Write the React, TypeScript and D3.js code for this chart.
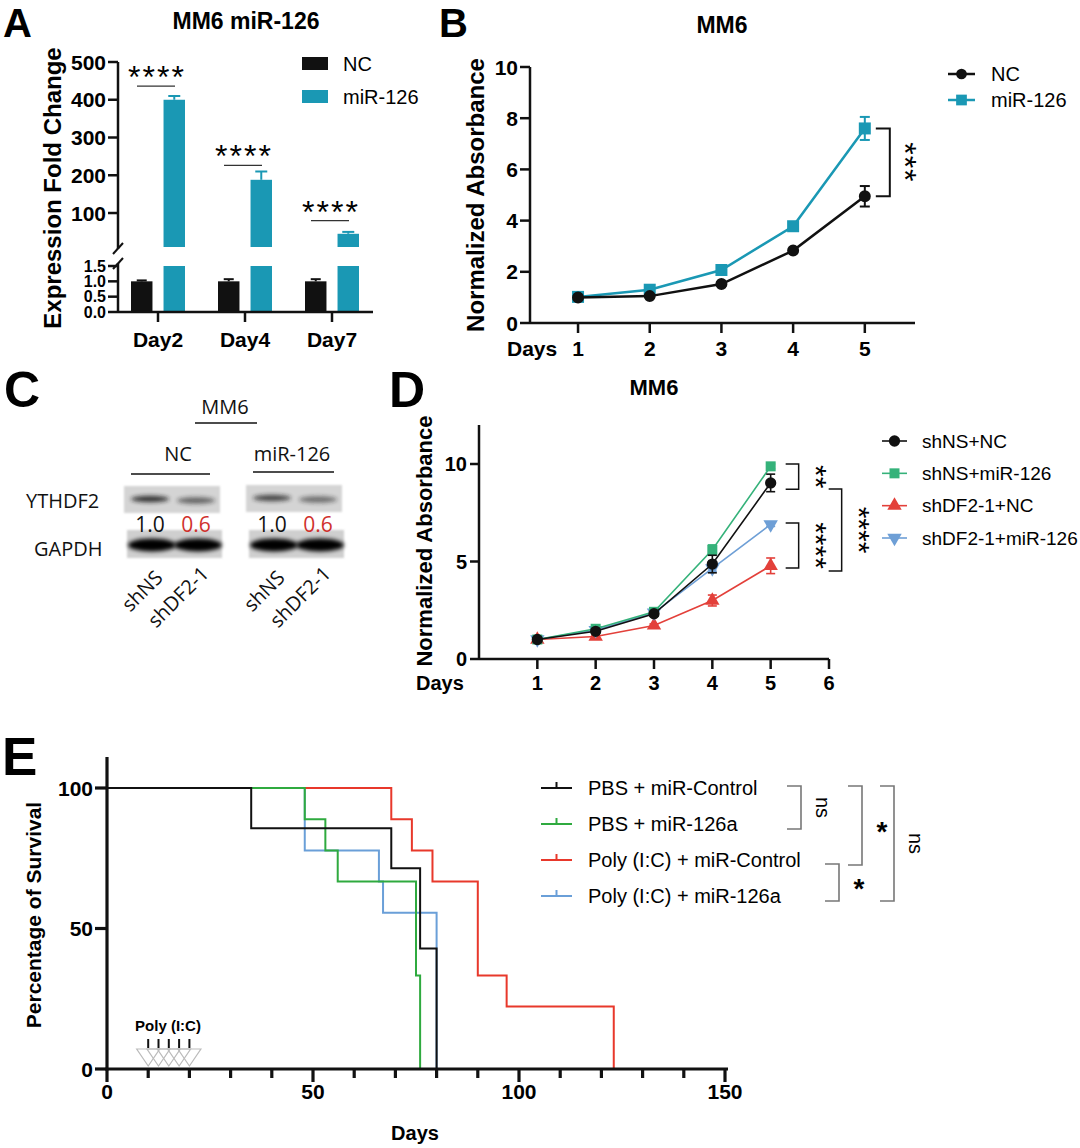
import React from 'react';
import * as d3 from 'd3';

const FONT = "'Liberation Sans', Arial, Helvetica, sans-serif";
const BLOT_FONT = "'Open Sans', 'Noto Sans', 'DejaVu Sans', sans-serif";
const TEAL = '#1a98b4';

// ---------- Panel A ----------
const aDays = ['Day2', 'Day4', 'Day7'];
const aSeries = ['NC', 'miR-126'];
const aNC = [1.0, 1.0, 1.0];
const aNCErr = [0.03, 0.07, 0.07];
const aMiR = [400, 188, 45];
const aMiRErr = [10, 22, 5];
const aUpperTicks = [100, 200, 300, 400, 500];
const aLowerTicks = [0, 0.5, 1.0, 1.5];
const aSigLabels = ['****', '****', '****'];
const aSigY = [436, 226, 80];

// ---------- Panel B ----------
const bDays = [1, 2, 3, 4, 5];
const bNC = [1.0, 1.05, 1.52, 2.83, 4.95];
const bNCErr = [0.05, 0.05, 0.06, 0.07, 0.4];
const bMiR = [1.02, 1.3, 2.07, 3.78, 7.6];
const bMiRErr = [0.05, 0.06, 0.08, 0.15, 0.45];
const bYTicks = [0, 2, 4, 6, 8, 10];
const bSeries = ['NC', 'miR-126'];

// ---------- Panel C ----------
const cGroups = ['NC', 'miR-126'];
const cLanes = ['shNS', 'shDF2-1'];
const cQuant = [[1.0, 0.6], [1.0, 0.6]];
const cYTHDF2Intensity = [[0.85, 0.6], [0.75, 0.55]];

// ---------- Panel D ----------
const dDays = [1, 2, 3, 4, 5];
const dNames = ['shNS+NC', 'shNS+miR-126', 'shDF2-1+NC', 'shDF2-1+miR-126'];
const dShNSNC = [1.0, 1.42, 2.32, 4.87, 9.03];
const dShNSNCErr = [0.05, 0.08, 0.1, 0.45, 0.45];
const dShNSMiR = [1.0, 1.55, 2.42, 5.6, 9.88];
const dShNSMiRErr = [0.05, 0.08, 0.1, 0.25, 0.12];
const dShDFNC = [1.0, 1.15, 1.72, 3.0, 4.78];
const dShDFNCErr = [0.05, 0.08, 0.08, 0.28, 0.4];
const dShDFMiR = [1.0, 1.48, 2.37, 4.65, 6.9];
const dShDFMiRErr = [0.04, 0.06, 0.08, 0.15, 0.1];
const dYTicks = [0, 5, 10];
const dXTicks = [1, 2, 3, 4, 5, 6];
const dBrFrom = [10.0, 6.97, 8.72];
const dBrTo = [8.7, 4.67, 4.51];
const dBrLabel = ['**', '****', '****'];
const dBrLevel = [0, 0, 1];

// ---------- Panel E ----------
const eGroups = ['PBS + miR-Control', 'PBS + miR-126a', 'Poly (I:C) + miR-Control', 'Poly (I:C) + miR-126a'];
const ePBSCtrlDays = [0, 35, 69, 76, 80];
const ePBSCtrlSurv = [100, 85.7, 71.4, 42.9, 0];
const ePBS126Days = [0, 48, 53, 56, 75, 76];
const ePBS126Surv = [100, 88.9, 77.8, 66.7, 33.3, 0];
const ePolyCtrlDays = [0, 69, 74, 79, 90, 97, 123];
const ePolyCtrlSurv = [100, 88.9, 77.8, 66.7, 33.3, 22.2, 0];
const ePoly126Days = [0, 48, 66, 67, 80];
const ePoly126Surv = [100, 77.8, 66.7, 55.6, 0];
const eMajorTicks = [0, 50, 100, 150];
const eMinorTicks = [10, 20, 30, 40, 60, 70, 80, 90, 110, 120, 130, 140];
const eYTicks = [0, 50, 100];
const polyICDays = [10, 12.5, 15, 17.5, 20];
const eBrTop = [0, 0, 2, 0];
const eBrBottom = [1, 2, 3, 3];
const eBrLabel = ['ns', '*', '*', 'ns'];
const eBrX = [787, 848, 825, 880];

type P = any;

function Sym({ type, x, y, size, fill, rotate = 0 }: P) {
  const d = d3.symbol().type(type).size(size)() as string;
  return <path d={d} transform={`translate(${x},${y}) rotate(${rotate})`} fill={fill} />;
}

function ErrBar({ x, y0, y1, cap, color, w }: P) {
  return (
    <g stroke={color} strokeWidth={w} fill="none">
      <line x1={x} x2={x} y1={y0} y2={y1} />
      <line x1={x - cap / 2} x2={x + cap / 2} y1={y0} y2={y0} />
      <line x1={x - cap / 2} x2={x + cap / 2} y1={y1} y2={y1} />
    </g>
  );
}

function Bracket({ x, y0, y1, w, color, sw }: P) {
  return <path d={`M${x},${y0}H${x + w}V${y1}H${x}`} fill="none" stroke={color} strokeWidth={sw} />;
}

function PanelA() {
  const ax = d3.scalePoint(aDays, [158, 332]);
  const sub = d3.scaleBand(aSeries, [-27, 27]).paddingInner(0.34);
  const yUp = d3.scaleLinear([10, 500], [247, 62]);
  const yLow = d3.scaleLinear([0, 1.5], [312, 266]);
  const bw = sub.bandwidth();
  const axX = 118;
  return (
    <g fontFamily={FONT}>
      <text x={3} y={37} fontSize={40} fontWeight="bold">A</text>
      <text x={246} y={21} fontSize={23} fontWeight="bold" textAnchor="middle" dominantBaseline="central">MM6 miR-126</text>
      <text transform={`translate(52,188) rotate(-90)`} fontSize={24} fontWeight="bold" textAnchor="middle" dominantBaseline="central">Expression Fold Change</text>
      {aDays.map((d, i) => {
        const cx = ax(d)!;
        const nx = cx + sub('NC')!;
        const mx = cx + sub('miR-126')!;
        return (
          <g key={d}>
            <rect x={nx} width={bw} y={yLow(aNC[i])} height={yLow(0) - yLow(aNC[i])} fill="#111" />
            <line x1={nx + bw / 2} x2={nx + bw / 2} y1={yLow(aNC[i])} y2={yLow(aNC[i] + aNCErr[i])} stroke="#111" strokeWidth={2} />
            <line x1={nx + bw / 2 - 5} x2={nx + bw / 2 + 5} y1={yLow(aNC[i] + aNCErr[i])} y2={yLow(aNC[i] + aNCErr[i])} stroke="#111" strokeWidth={2} />
            <rect x={mx} width={bw} y={yLow(1.5)} height={yLow(0) - yLow(1.5)} fill={TEAL} />
            <rect x={mx} width={bw} y={yUp(aMiR[i])} height={yUp(10) - yUp(aMiR[i])} fill={TEAL} />
            <line x1={mx + bw / 2} x2={mx + bw / 2} y1={yUp(aMiR[i])} y2={yUp(aMiR[i] + aMiRErr[i])} stroke={TEAL} strokeWidth={2} />
            <line x1={mx + bw / 2 - 6} x2={mx + bw / 2 + 6} y1={yUp(aMiR[i] + aMiRErr[i])} y2={yUp(aMiR[i] + aMiRErr[i])} stroke={TEAL} strokeWidth={2} />
            <line x1={cx - 21} x2={cx + 17} y1={yUp(aSigY[i])} y2={yUp(aSigY[i])} stroke="#333" strokeWidth={1.2} />
            <text x={cx - 1} y={yUp(aSigY[i]) + 2} fontSize={32} textAnchor="middle" letterSpacing={2}>{aSigLabels[i]}</text>
          </g>
        );
      })}
      <g stroke="#111" strokeWidth={2.5} fill="none">
        <line x1={axX} x2={axX} y1={yUp(500)} y2={249} />
        <line x1={axX} x2={axX} y1={263} y2={yLow(0)} />
        <line x1={113} x2={123} y1={254} y2={243} strokeWidth={2} />
        <line x1={113} x2={123} y1={269} y2={258} strokeWidth={2} />
        <line x1={axX} x2={373} y1={yLow(0)} y2={yLow(0)} />
        {aUpperTicks.map(t => <line key={t} x1={108} x2={axX} y1={yUp(t)} y2={yUp(t)} />)}
        {aLowerTicks.map(t => <line key={t} x1={108} x2={axX} y1={yLow(t)} y2={yLow(t)} />)}
        {aDays.map(d => <line key={d} x1={ax(d)!} x2={ax(d)!} y1={yLow(0)} y2={yLow(0) + 10} />)}
      </g>
      {aUpperTicks.map(t => <text key={t} x={106} y={yUp(t)} fontSize={21} fontWeight="bold" textAnchor="end" dominantBaseline="central">{t}</text>)}
      {aLowerTicks.map(t => <text key={t} x={106} y={yLow(t)} fontSize={16} fontWeight="bold" textAnchor="end" dominantBaseline="central">{t.toFixed(1)}</text>)}
      {aDays.map(d => <text key={d} x={ax(d)!} y={339} fontSize={21} fontWeight="bold" textAnchor="middle" dominantBaseline="central">{d}</text>)}
      {aSeries.map((s, i) => (
        <g key={s}>
          <rect x={302} y={57 + i * 33} width={26} height={13} fill={i === 0 ? '#111' : TEAL} />
          <text x={343} y={63.5 + i * 33} fontSize={20} dominantBaseline="central">{s}</text>
        </g>
      ))}
    </g>
  );
}

function PanelB() {
  const x = d3.scaleLinear([0.33, 5.7], [530, 915]);
  const y = d3.scaleLinear([0, 10], [323, 67]);
  const line = (vals: number[]) => d3.line<number>().x((_, i) => x(bDays[i])).y(v => y(v))(vals) as string;
  const series = [
    { name: bSeries[1], vals: bMiR, err: bMiRErr, color: TEAL, sym: d3.symbolSquare, size: 144 },
    { name: bSeries[0], vals: bNC, err: bNCErr, color: '#111', sym: d3.symbolCircle, size: 113 },
  ];
  return (
    <g fontFamily={FONT}>
      <text x={439} y={37} fontSize={40} fontWeight="bold">B</text>
      <text x={722} y={25} fontSize={23} fontWeight="bold" textAnchor="middle" dominantBaseline="central">MM6</text>
      <text transform={`translate(475,195) rotate(-90)`} fontSize={24} fontWeight="bold" textAnchor="middle" dominantBaseline="central">Normalized Absorbance</text>
      {series.map(s => (
        <g key={s.name}>
          <path d={line(s.vals)} fill="none" stroke={s.color} strokeWidth={2.5} />
          {s.vals.map((v, i) => (
            <g key={i}>
              <ErrBar x={x(bDays[i])} y0={y(v - s.err[i])} y1={y(v + s.err[i])} cap={10} color={s.color} w={2} />
              <Sym type={s.sym} x={x(bDays[i])} y={y(v)} size={s.size} fill={s.color} />
            </g>
          ))}
        </g>
      ))}
      <Bracket x={x(5) + 11} y0={y(bMiR[4])} y1={y(bNC[4])} w={14} color="#111" sw={2} />
      <text transform={`translate(${x(5) + 29},${(y(bMiR[4]) + y(bNC[4])) / 2}) rotate(90)`} fontSize={32} textAnchor="middle" letterSpacing={1}>***</text>
      <g stroke="#111" strokeWidth={2.5}>
        <line x1={530} x2={530} y1={y(10)} y2={y(0)} />
        <line x1={530} x2={915} y1={y(0)} y2={y(0)} />
        {bYTicks.map(t => <line key={t} x1={520} x2={530} y1={y(t)} y2={y(t)} />)}
        {bDays.map(t => <line key={t} x1={x(t)} x2={x(t)} y1={y(0)} y2={y(0) + 10} />)}
      </g>
      {bYTicks.map(t => <text key={t} x={518} y={y(t)} fontSize={21} fontWeight="bold" textAnchor="end" dominantBaseline="central">{t}</text>)}
      {bDays.map(t => <text key={t} x={x(t)} y={348} fontSize={21} fontWeight="bold" textAnchor="middle" dominantBaseline="central">{t}</text>)}
      <text x={507} y={348} fontSize={21} fontWeight="bold" dominantBaseline="central">Days</text>
      {[series[1], series[0]].map((s, i) => (
        <g key={s.name}>
          <line x1={948} x2={975} y1={74 + i * 26} y2={74 + i * 26} stroke={s.color} strokeWidth={2.5} />
          <Sym type={s.sym} x={961.5} y={74 + i * 26} size={s.size * 0.8} fill={s.color} />
          <text x={991} y={74 + i * 26} fontSize={20} dominantBaseline="central">{s.name}</text>
        </g>
      ))}
    </g>
  );
}

function PanelC() {
  const gx = d3.scaleBand(cGroups, [124, 342]).paddingInner(0.213);
  const lx = d3.scalePoint(cLanes, [26, 72]);
  const gw = gx.bandwidth();
  return (
    <g>
      <defs>
        <filter id="blurBand" x="-30%" y="-100%" width="160%" height="300%"><feGaussianBlur stdDeviation="2.2" /></filter>
        <filter id="blurBg" x="-5%" y="-20%" width="110%" height="140%"><feGaussianBlur stdDeviation="0.8" /></filter>
      </defs>
      <text x={4} y={407} fontSize={50} fontWeight="bold" fontFamily={FONT}>C</text>
      <g fontFamily={BLOT_FONT} fill="#111">
        <text x={225} y={406} fontSize={20} textAnchor="middle" dominantBaseline="central">MM6</text>
        <line x1={195} x2={257} y1={423} y2={423} stroke="#111" strokeWidth={1.5} />
        <text x={26} y={500} fontSize={20} dominantBaseline="central">YTHDF2</text>
        <text x={34} y={548} fontSize={20} dominantBaseline="central">GAPDH</text>
        {cGroups.map((g, gi) => {
          const x0 = gx(g)!;
          return (
            <g key={g}>
              <text x={x0 + gw / 2 + (gi === 0 ? 6 : -2)} y={453} fontSize={20} textAnchor="middle" dominantBaseline="central">{g}</text>
              <line x1={x0 + 7} x2={x0 + gw - 10 + gi * 2} y1={474 - gi * 2} y2={474 - gi * 2} stroke="#111" strokeWidth={1.5} />
              <rect x={x0} y={486 - gi} width={gw} height={27} fill="#d4d4d4" filter="url(#blurBg)" />
              <rect x={x0 + 3} y={530} width={gw - 1} height={28} fill="#cfcfcf" filter="url(#blurBg)" />
              {cLanes.map((l, li) => {
                const cx = x0 + lx(l)!;
                const inten = cYTHDF2Intensity[gi][li];
                return (
                  <g key={l}>
                    <ellipse cx={cx} cy={499 + li * 1.5 - gi} rx={19} ry={3.2} fill="#1a1a1a" opacity={inten} filter="url(#blurBand)" />
                    <ellipse cx={cx + 2} cy={545} rx={24} ry={6.5} fill="#050505" filter="url(#blurBand)" />
                    <text x={cx} y={524} fontSize={21} textAnchor="middle" dominantBaseline="central" fill={li === 1 ? '#d0312d' : '#111'}>{cQuant[gi][li].toFixed(1)}</text>
                    <text transform={`translate(${cx + 14},${579 - li * 4}) rotate(-45)`} fontSize={20} textAnchor="end">{l}</text>
                  </g>
                );
              })}
            </g>
          );
        })}
      </g>
    </g>
  );
}

function PanelD() {
  const x = d3.scaleLinear([0, 6], [479, 829]);
  const y = d3.scaleLinear([0, 12], [659, 425]);
  const line = (vals: number[]) => d3.line<number>().x((_, i) => x(dDays[i])).y(v => y(v))(vals) as string;
  const series = [
    { name: dNames[2], vals: dShDFNC, err: dShDFNCErr, color: '#e3403a', sym: d3.symbolTriangle, size: 90, rot: 0 },
    { name: dNames[3], vals: dShDFMiR, err: dShDFMiRErr, color: '#6e9fd6', sym: d3.symbolTriangle, size: 90, rot: 180 },
    { name: dNames[1], vals: dShNSMiR, err: dShNSMiRErr, color: '#35b27a', sym: d3.symbolSquare, size: 100, rot: 0 },
    { name: dNames[0], vals: dShNSNC, err: dShNSNCErr, color: '#111', sym: d3.symbolCircle, size: 100, rot: 0 },
  ];
  const legendY = d3.scalePoint(dNames, [441, 538]);
  const x5 = x(5);
  return (
    <g fontFamily={FONT}>
      <text x={389} y={407} fontSize={50} fontWeight="bold">D</text>
      <text x={654} y={387} fontSize={22} fontWeight="bold" textAnchor="middle" dominantBaseline="central">MM6</text>
      <text transform={`translate(424,541) rotate(-90)`} fontSize={22} fontWeight="bold" textAnchor="middle" dominantBaseline="central">Normalized Absorbance</text>
      {series.map(s => (
        <g key={s.name}>
          <path d={line(s.vals)} fill="none" stroke={s.color} strokeWidth={1.6} />
          {s.vals.map((v, i) => (
            <g key={i}>
              <ErrBar x={x(dDays[i])} y0={y(v - s.err[i])} y1={y(v + s.err[i])} cap={9} color={s.color} w={1.6} />
              <Sym type={s.sym} x={x(dDays[i])} y={y(v)} size={s.size} fill={s.color} rotate={s.rot} />
            </g>
          ))}
        </g>
      ))}
      {dBrLabel.map((lab, i) => {
        const bx = x5 + 15 + dBrLevel[i] * 43;
        return (
          <g key={i}>
            <Bracket x={bx} y0={y(dBrFrom[i])} y1={y(dBrTo[i])} w={13} color="#111" sw={1.5} />
            <text transform={`translate(${bx + 20},${(y(dBrFrom[i]) + y(dBrTo[i])) / 2}) rotate(90)`} fontSize={30} textAnchor="middle" letterSpacing={0}>{lab}</text>
          </g>
        );
      })}
      <g stroke="#111" strokeWidth={2.5}>
        <line x1={479} x2={479} y1={y(12)} y2={y(0)} />
        <line x1={479} x2={829} y1={y(0)} y2={y(0)} />
        {dYTicks.map(t => <line key={t} x1={470} x2={479} y1={y(t)} y2={y(t)} />)}
        {dXTicks.map(t => <line key={t} x1={x(t)} x2={x(t)} y1={y(0)} y2={y(0) + 10} />)}
      </g>
      {dYTicks.map(t => <text key={t} x={467} y={y(t)} fontSize={20} fontWeight="bold" textAnchor="end" dominantBaseline="central">{t}</text>)}
      {dXTicks.map(t => <text key={t} x={x(t)} y={683} fontSize={20} fontWeight="bold" textAnchor="middle" dominantBaseline="central">{t}</text>)}
      <text x={416} y={683} fontSize={20} fontWeight="bold" dominantBaseline="central">Days</text>
      {dNames.map(n => {
        const s = series.find(q => q.name === n)!;
        const ly = legendY(n)!;
        return (
          <g key={n}>
            <line x1={882} x2={907} y1={ly} y2={ly} stroke={s.color} strokeWidth={1.6} />
            <Sym type={s.sym} x={894.5} y={ly} size={s.size} fill={s.color} rotate={s.rot} />
            <text x={922} y={ly} fontSize={19} dominantBaseline="central">{n}</text>
          </g>
        );
      })}
    </g>
  );
}

function PanelE() {
  const x = d3.scaleLinear([0, 150], [107, 725]);
  const y = d3.scaleLinear([0, 100], [1069, 788]);
  const step = (days: number[], surv: number[]) =>
    d3.line<number>().x((_, i) => x(days[i])).y(v => y(v)).curve(d3.curveStepAfter)(surv) as string;
  const curves = [
    { name: eGroups[3], days: ePoly126Days, surv: ePoly126Surv, color: '#6a9fd8' },
    { name: eGroups[2], days: ePolyCtrlDays, surv: ePolyCtrlSurv, color: '#e8382b' },
    { name: eGroups[1], days: ePBS126Days, surv: ePBS126Surv, color: '#2faa3f' },
    { name: eGroups[0], days: ePBSCtrlDays, surv: ePBSCtrlSurv, color: '#111' },
  ];
  const ly = d3.scalePoint(eGroups, [788, 896]);
  return (
    <g fontFamily={FONT}>
      <text x={2} y={775} fontSize={53} fontWeight="bold">E</text>
      <text transform={`translate(33,915) rotate(-90)`} fontSize={21} fontWeight="bold" textAnchor="middle" dominantBaseline="central">Percentage of Survival</text>
      {curves.map(c => <path key={c.name} d={step(c.days, c.surv)} fill="none" stroke={c.color} strokeWidth={2} />)}
      <g stroke="#111" strokeWidth={3.2}>
        <line x1={107} x2={107} y1={y(111)} y2={y(0) + 1.5} />
        <line x1={105.5} x2={728} y1={y(0)} y2={y(0)} />
        {eYTicks.map(t => <line key={t} x1={95} x2={107} y1={y(t)} y2={y(t)} />)}
        {eMajorTicks.map(t => <line key={t} x1={x(t)} x2={x(t)} y1={y(0)} y2={y(0) + 13} />)}
        {eMinorTicks.map(t => <line key={t} x1={x(t)} x2={x(t)} y1={y(0)} y2={y(0) + 9} />)}
      </g>
      {eYTicks.map(t => <text key={t} x={93} y={y(t)} fontSize={21} fontWeight="bold" textAnchor="end" dominantBaseline="central">{t}</text>)}
      {eMajorTicks.map(t => <text key={t} x={x(t)} y={1091} fontSize={21} fontWeight="bold" textAnchor="middle" dominantBaseline="central">{t}</text>)}
      <text x={415} y={1133} fontSize={20} fontWeight="bold" textAnchor="middle" dominantBaseline="central">Days</text>
      <text x={168} y={1025} fontSize={15} fontWeight="bold" textAnchor="middle" dominantBaseline="central">Poly (I:C)</text>
      {polyICDays.map(d => (
        <g key={d}>
          <line x1={x(d)} x2={x(d)} y1={1039} y2={1048} stroke="#111" strokeWidth={2} />
          <path d={`M${x(d) - 11.5},1049L${x(d) + 11.5},1049L${x(d)},1066Z`} fill="none" stroke="#bbb" strokeWidth={1.2} />
        </g>
      ))}
      {eGroups.map(g => {
        const c = curves.find(q => q.name === g)!;
        const yy = ly(g)!;
        return (
          <g key={g}>
            <line x1={541} x2={572} y1={yy} y2={yy} stroke={c.color} strokeWidth={2} />
            <line x1={556.5} x2={556.5} y1={yy - 6} y2={yy} stroke={c.color} strokeWidth={2} />
            <text x={588} y={yy} fontSize={20} dominantBaseline="central">{g}</text>
          </g>
        );
      })}
      {eBrLabel.map((lab, i) => {
        const y0 = ly(eGroups[eBrTop[i]])! - 2 + (eBrTop[i] === 2 ? 6 : 0);
        const y1 = ly(eGroups[eBrBottom[i]])! + 5;
        const bx = eBrX[i];
        const isStar = lab === '*';
        return (
          <g key={i}>
            <Bracket x={bx} y0={y0} y1={y1} w={14} color="#777" sw={1.6} />
            {isStar ? (
              <text x={bx + 34} y={(y0 + y1) / 2 + 15} fontSize={28} fontWeight="bold" textAnchor="middle">*</text>
            ) : (
              <text transform={`translate(${bx + 36},${(y0 + y1) / 2}) rotate(90)`} fontSize={20} textAnchor="middle" dominantBaseline="central">{lab}</text>
            )}
          </g>
        );
      })}
    </g>
  );
}

export default function App() {
  React.useEffect(() => {
    document.body.style.margin = '0';
  }, []);
  return (
    <svg width={1080} height={1148} viewBox="0 0 1080 1148" style={{ display: 'block', background: '#fff', position: 'absolute', left: 0, top: 0 }}>
      <rect width={1080} height={1148} fill="#fff" />
      <PanelA />
      <PanelB />
      <PanelC />
      <PanelD />
      <PanelE />
    </svg>
  );
}
